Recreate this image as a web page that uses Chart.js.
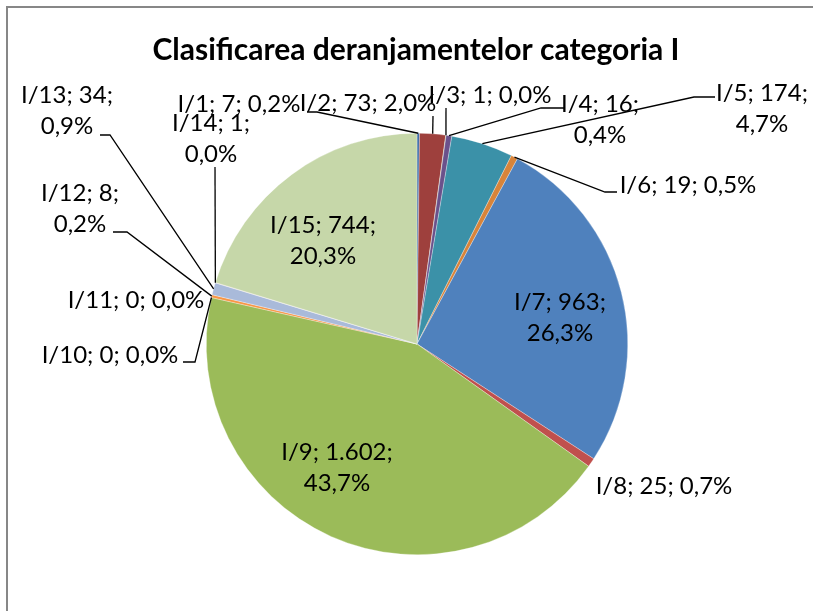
<!DOCTYPE html>
<html>
<head>
<meta charset="utf-8">
<script src="https://cdn.jsdelivr.net/npm/chart.js@4.4.1/dist/chart.umd.min.js"></script>
<style>
  html, body { margin: 0; padding: 0; background: #fff; }
  canvas { display: block; }
</style>
</head>
<body>
<canvas id="chart" width="813" height="611"></canvas>
<script>
// data
const categories = ['I/1', 'I/2', 'I/3', 'I/4', 'I/5', 'I/6', 'I/7', 'I/8', 'I/9', 'I/10', 'I/11', 'I/12', 'I/13', 'I/14', 'I/15'];
const counts = [7, 73, 1, 16, 174, 19, 963, 25, 1602, 0, 0, 8, 34, 1, 744];
const sliceColors = [
    '#3d6ba6', '#9e403d', '#7f9b48', '#6a518b', '#3b91a8', '#d8843a',
    '#4f81bd', '#c0504d', '#9bbb59', '#8064a2', '#4bacc6', '#f79646',
    '#a9bada', '#dba7a5', '#c6d7a9'
];
const chartTitle = 'Clasificarea deranjamentelor categoria I';

// where each data label sits (centre of first line), whether it wraps,
// and its leader line: [startX, startY, elbowX]
const labelLayout = [
    { x: 239, y: 104, wrap: false, leader: [307, 112, 317] },
    { x: 368, y: 103, wrap: false, leader: [433, 116, 433] },
    { x: 490, y: 95,  wrap: false, leader: [446, 108, 446] },
    { x: 600, y: 104, wrap: true,  leader: [564, 108, 541] },
    { x: 762, y: 93,  wrap: true,  leader: [715, 97, 694] },
    { x: 688, y: 185, wrap: false, leader: [617, 192, 605] },
    { x: 560, y: 302, wrap: true,  leader: null },
    { x: 664, y: 486, wrap: false, leader: null },
    { x: 337, y: 452, wrap: true,  leader: null },
    { x: 110, y: 355, wrap: false, leader: [183, 362, 195] },
    { x: 136, y: 300, wrap: false, leader: null },
    { x: 80,  y: 193, wrap: true,  leader: [113, 232, 127] },
    { x: 67,  y: 95,  wrap: true,  leader: [100, 135, 110] },
    { x: 211, y: 123, wrap: true,  leader: [215, 167, 215] },
    { x: 323, y: 225, wrap: true,  leader: null }
];

const FONT = 'Lato, "Open Sans", sans-serif';

function fmtCount(n) {
    return String(n).replace(/\B(?=(\d{3})+(?!\d))/g, '.');
}
function fmtPct(n, total) {
    return (n / total * 100).toFixed(1).replace('.', ',') + '%';
}

const labelsPlugin = {
    id: 'excelLabels',
    beforeDraw(chart) {
        const ctx = chart.ctx;
        ctx.save();
        ctx.strokeStyle = '#878787';
        ctx.lineWidth = 2;
        ctx.beginPath();
        ctx.moveTo(7, 620);
        ctx.lineTo(7, 7);
        ctx.lineTo(820, 7);
        ctx.stroke();
        // title
        ctx.fillStyle = '#000';
        ctx.font = 'bold 30px ' + FONT;
        ctx.textAlign = 'center';
        ctx.textBaseline = 'middle';
        ctx.fillText(chartTitle, 416, 50);
        ctx.restore();
    },
    afterDatasetsDraw(chart) {
        const ctx = chart.ctx;
        const meta = chart.getDatasetMeta(0);
        const total = counts.reduce((a, b) => a + b, 0);
        ctx.save();
        ctx.font = '24px ' + FONT;
        ctx.fillStyle = '#000';
        ctx.strokeStyle = '#000';
        ctx.lineWidth = 1.3;
        ctx.textAlign = 'center';
        ctx.textBaseline = 'middle';
        meta.data.forEach((arc, i) => {
            const lay = labelLayout[i];
            if (lay.leader) {
                const mid = (arc.startAngle + arc.endAngle) / 2;
                const ax = arc.x + Math.cos(mid) * arc.outerRadius;
                const ay = arc.y + Math.sin(mid) * arc.outerRadius;
                const [sx, sy, ex] = lay.leader;
                ctx.beginPath();
                ctx.moveTo(sx, sy);
                ctx.lineTo(ex, sy);
                ctx.lineTo(ax, ay);
                ctx.stroke();
            }
            const head = categories[i] + '; ' + fmtCount(counts[i]) + ';';
            const pct = fmtPct(counts[i], total);
            if (lay.wrap) {
                ctx.fillText(head, lay.x, lay.y);
                ctx.fillText(pct, lay.x, lay.y + 31);
            } else {
                ctx.fillText(head + ' ' + pct, lay.x, lay.y);
            }
        });
        ctx.restore();
    }
};

new Chart(document.getElementById('chart'), {
    type: 'pie',
    data: {
        labels: categories,
        datasets: [{
            data: counts,
            backgroundColor: sliceColors,
            borderColor: 'rgba(255,255,255,0.6)',
            borderWidth: 0.5,
            hoverOffset: 0
        }]
    },
    options: {
        responsive: false,
        animation: false,
        layout: { padding: { left: 206, right: 185, top: 133, bottom: 56 } },
        plugins: {
            legend: { display: false },
            tooltip: { enabled: false },
            title: { display: false }
        }
    },
    plugins: [labelsPlugin]
});
</script>
</body>
</html>
